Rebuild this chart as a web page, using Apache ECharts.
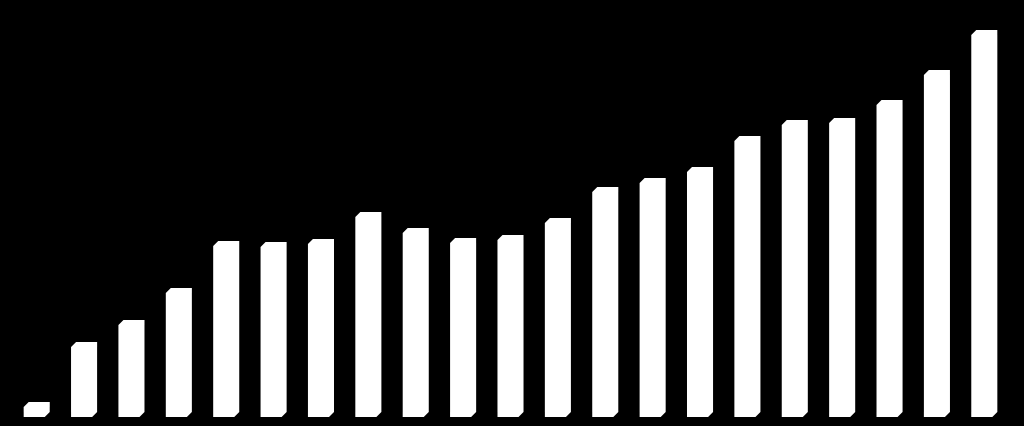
<!DOCTYPE html>
<html>
<head>
<meta charset="utf-8">
<script src="https://cdn.jsdelivr.net/npm/echarts@6/dist/echarts.min.js"></script>
<style>
  html, body { margin: 0; padding: 0; background: #000; }
  #chart { width: 1024px; height: 426px; }
</style>
</head>
<body>
<div id="chart"></div>
<script>
var categories = ['1','2','3','4','5','6','7','8','9','10','11','12','13','14','15','16','17','18','19','20','21'];
var values = [15, 75, 97, 129, 176, 175, 178, 205, 189, 179, 182, 199, 230, 239, 250, 281, 297, 299, 317, 347, 387];

var chart = echarts.init(document.getElementById('chart'));

// bar with the top-left and bottom-right corners cut off
function renderBar(params, api) {
    var top = api.coord([api.value(0), api.value(1)]);
    var base = api.coord([api.value(0), 0]);
    var w = api.size([1, 0])[0] * 0.55;
    var x0 = top[0] - w / 2, x1 = top[0] + w / 2;
    var c = 5;
    return {
        type: 'polygon',
        shape: {
            points: [
                [x0, top[1] + c], [x0 + c, top[1]], [x1, top[1]],
                [x1, base[1] - c], [x1 - c, base[1]], [x0, base[1]]
            ]
        },
        style: { fill: '#ffffff' }
    };
}

var option = {
    backgroundColor: '#000000',
    animation: false,
    grid: { left: 13, right: 16, top: 17, bottom: 9 },
    xAxis: {
        type: 'category',
        data: categories,
        show: false
    },
    yAxis: {
        type: 'value',
        min: 0,
        max: 400,
        show: false
    },
    series: [{
        type: 'custom',
        renderItem: renderBar,
        data: values.map(function (v, i) { return [i, v]; })
    }]
};
chart.setOption(option);
</script>
</body>
</html>
